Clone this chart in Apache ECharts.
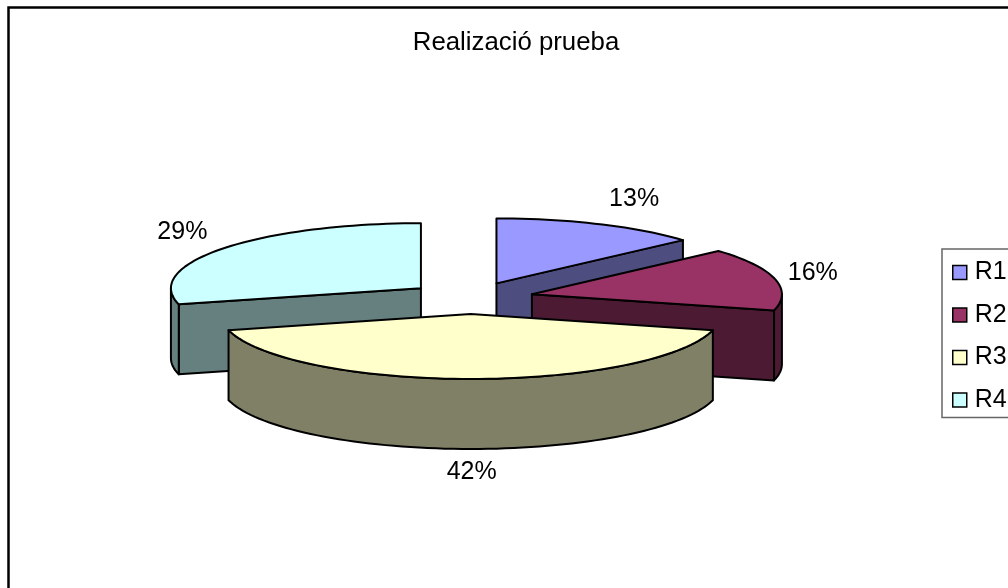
<!DOCTYPE html>
<html>
<head>
<meta charset="utf-8">
<style>html,body{margin:0;padding:0;background:#fff;overflow:hidden}#c{width:1008px;height:588px}</style>
<script src="https://cdn.jsdelivr.net/npm/echarts@6/dist/echarts.min.js"></script>
</head>
<body>
<div id="c"></div>
<script>
const titleText = 'Realizació prueba';
const categories = ['R1', 'R2', 'R3', 'R4'];
const values = [13.4, 15.6, 42, 29];
const topColors = ['#9999FF', '#993366', '#FFFFCC', '#CCFFFF'];
const sideColors = ['#4D4D80', '#4D1A33', '#808066', '#668080'];
const drawOrder = [1, 2, 4, 3];
const labelOffsets = [[35.5, -25], [38, -6], [1, 23], [-41, -16]];

const FONT = '"Liberation Sans", Arial, sans-serif';
const pie = { cx: 470.7, cy: 298, rx: 250, ry: 65, depth: 70, ex: 63, ey: 16 };
const total = values.reduce((a, b) => a + b, 0);

function point(ax, ay, deg) {
  const t = deg * Math.PI / 180;
  return [ax + pie.rx * Math.sin(t), ay - pie.ry * Math.cos(t)];
}
function arc(ax, ay, from, to) {
  const pts = [], n = Math.max(2, Math.ceil((to - from) / 2));
  for (let i = 0; i <= n; i++) pts.push(point(ax, ay, from + (to - from) * i / n));
  return pts;
}
function down(pts) { return pts.map(p => [p[0], p[1] + pie.depth]); }

function renderSlice(idx) {
  return function (params, api) {
    const v = api.value(0);
    let before = 0;
    for (let i = 0; i < idx; i++) before += values[i];
    const a0 = before / total * 360, a1 = a0 + v / total * 360, mid = (a0 + a1) / 2;
    const m = mid * Math.PI / 180;
    const ax = pie.cx + pie.ex * Math.sin(m), ay = pie.cy - pie.ey * Math.cos(m);
    const edge = { stroke: '#000', lineWidth: 2, lineJoin: 'round' };
    const kids = [];
    const poly = (points, fill) => kids.push({
      type: 'polygon', shape: { points }, style: Object.assign({ fill }, edge)
    });
    // cut faces seen from the front
    [a0, a1].forEach(a => {
      const r = point(ax, ay, a), s = Math.sin(a * Math.PI / 180);
      const visible = (a === a1 && s > 0.01) || (a === a0 && s < -0.01);
      if (visible) {
        poly([[ax, ay], r, [r[0], r[1] + pie.depth], [ax, ay + pie.depth]], sideColors[idx]);
      }
    });
    // outer wall, front half only
    const w0 = Math.max(a0, 90), w1 = Math.min(a1, 270);
    if (w1 > w0) {
      const t = arc(ax, ay, w0, w1);
      poly(t.concat(down(t).reverse()), sideColors[idx]);
    }
    // top face
    poly([[ax, ay]].concat(arc(ax, ay, a0, a1)), topColors[idx]);
    // percentage label
    const rim = point(ax, ay, mid);
    const lowered = mid > 90 && mid < 270 ? pie.depth : 0;
    kids.push({
      type: 'text',
      style: {
        x: rim[0] + labelOffsets[idx][0], y: rim[1] + lowered + labelOffsets[idx][1],
        text: Math.round(v / total * 100) + '%',
        font: '25px ' + FONT, fill: '#000', align: 'center', verticalAlign: 'middle'
      }
    });
    return { type: 'group', children: kids };
  };
}

const chart = echarts.init(document.getElementById('c'), null, { renderer: 'canvas' });
chart.setOption({
  animation: false,
  backgroundColor: '#fff',
  title: {
    text: titleText, left: 511, top: 25, textAlign: 'center',
    textStyle: { fontFamily: FONT, fontSize: 25.8, fontWeight: 'normal', color: '#000' }
  },
  legend: {
    orient: 'vertical', left: 942, top: 249,
    padding: [11, 30, 5, 10],
    backgroundColor: '#fff', borderColor: '#666', borderWidth: 1.5, borderRadius: 0,
    itemWidth: 14, itemHeight: 14, itemGap: 17.5, icon: 'rect',
    selectedMode: false,
    itemStyle: { borderColor: '#000', borderWidth: 1.5 },
    textStyle: { fontFamily: FONT, fontSize: 25, color: '#000', padding: [0, 0, 0, 3] },
    data: categories
  },
  graphic: [{
    type: 'rect', left: 6, top: 5, z: -1, silent: true,
    shape: { width: 1100, height: 700 },
    style: { fill: 'none', stroke: '#000', lineWidth: 2.5 }
  }],
  series: categories.map((name, i) => ({
    type: 'custom', name, coordinateSystem: 'none', z: drawOrder[i],
    itemStyle: { color: topColors[i] },
    data: [[values[i]]],
    renderItem: renderSlice(i)
  }))
});
</script>
</body>
</html>
